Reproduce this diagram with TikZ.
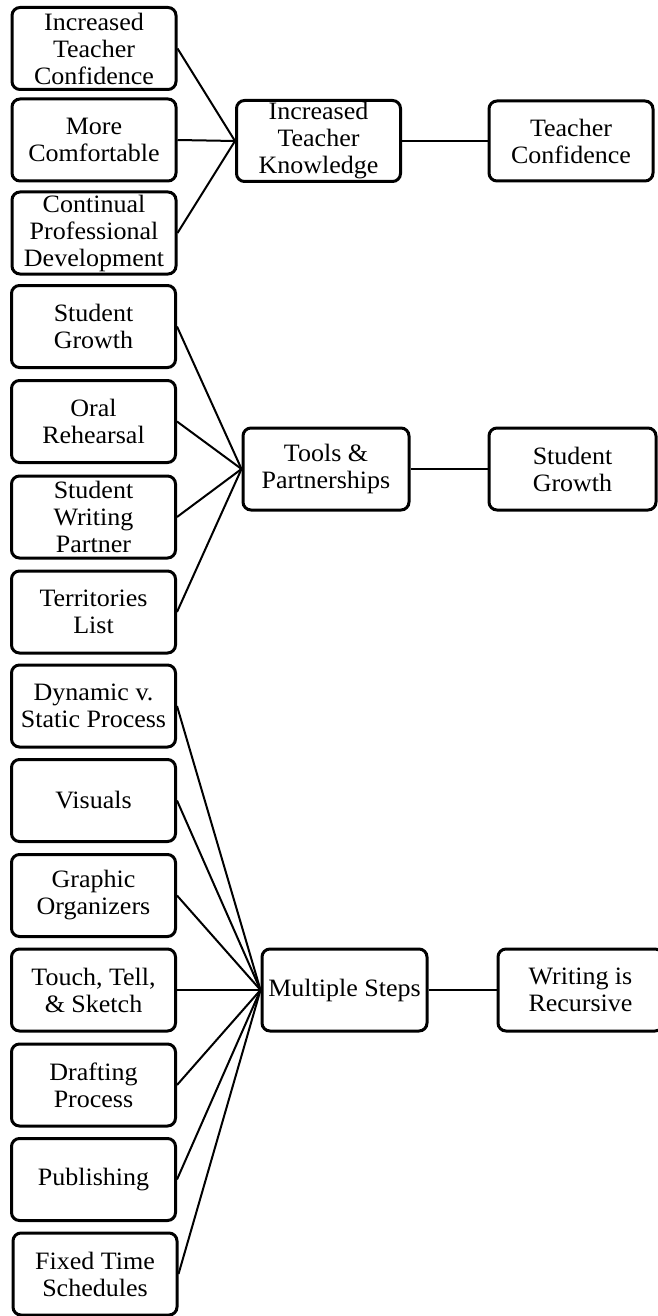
\documentclass[tikz,border=0pt]{standalone}
\usepackage{fontspec}
\setmainfont{Liberation Serif}[FakeStretch=1.04]
\begin{document}
\begin{tikzpicture}[x=1pt,y=-1pt,
  box/.style={draw,line width=3pt,rounded corners=8pt,inner sep=0pt,
    minimum width=164pt,minimum height=82pt,align=center,
    font=\fontsize{25}{27}\selectfont},
  link/.style={line width=2pt}]
\useasboundingbox (0,0) rectangle (658,1316);
\begin{scope}
\clip (0,-5) rectangle (658,1321);
% upper group: teacher knowledge
\node[box] (a1) at (94,48.5) {Increased\\Teacher\\Confidence};
\node[box] (a2) at (94,140) {More\\Comfortable};
\node[box] (a3) at (94,233) {Continual\\Professional\\Development};
\node[box,minimum height=80pt] (ka) at (318.5,141)
  {\raisebox{-4pt}{\begin{tabular}{@{}c@{}}Increased\\Teacher\\Knowledge\end{tabular}}};
\node[box,minimum height=80pt] (ra) at (571,141) {Teacher\\Confidence};
% middle group: tools and partnerships
\node[box] (b1) at (93.5,326.5) {Student\\Growth};
\node[box] (b2) at (93.5,421.5) {Oral\\Rehearsal};
\node[box] (b3) at (93.5,517) {Student\\Writing\\Partner};
\node[box] (b4) at (93.5,612) {Territories\\List};
\node[box,minimum width=166pt] (kb) at (326,469) {Tools \&\\Partnerships};
\node[box,minimum width=167pt] (rb) at (572.5,469) {Student\\Growth};
% lower group: multiple steps
\node[box] (c1) at (93.5,706) {Dynamic v.\\Static Process};
\node[box] (c2) at (93.5,800.5) {Visuals};
\node[box] (c3) at (93.5,895.5) {Graphic\\Organizers};
\node[box] (c4) at (93.5,990) {Touch, Tell,\\\& Sketch};
\node[box] (c5) at (93.5,1085) {Drafting\\Process};
\node[box] (c6) at (93.5,1179.5) {Publishing};
\node[box] (c7) at (95,1274) {Fixed Time\\Schedules};
\node[box,minimum width=165pt] (kc) at (344.5,990) {Multiple Steps};
\node[box,minimum width=165pt] (rc) at (580.5,990) {Writing is\\Recursive};
% connectors
\foreach \n in {a1,a2,a3} \draw[link] (\n.east) -- (ka.west);
\draw[link] (ka.east) -- (ra.west);
\foreach \n in {b1,b2,b3,b4} \draw[link] (\n.east) -- (kb.west);
\draw[link] (kb.east) -- (rb.west);
\foreach \n in {c1,c2,c3,c4,c5,c6,c7} \draw[link] (\n.east) -- (kc.west);
\draw[link] (kc.east) -- (rc.west);
\end{scope}
\end{tikzpicture}
\end{document}
